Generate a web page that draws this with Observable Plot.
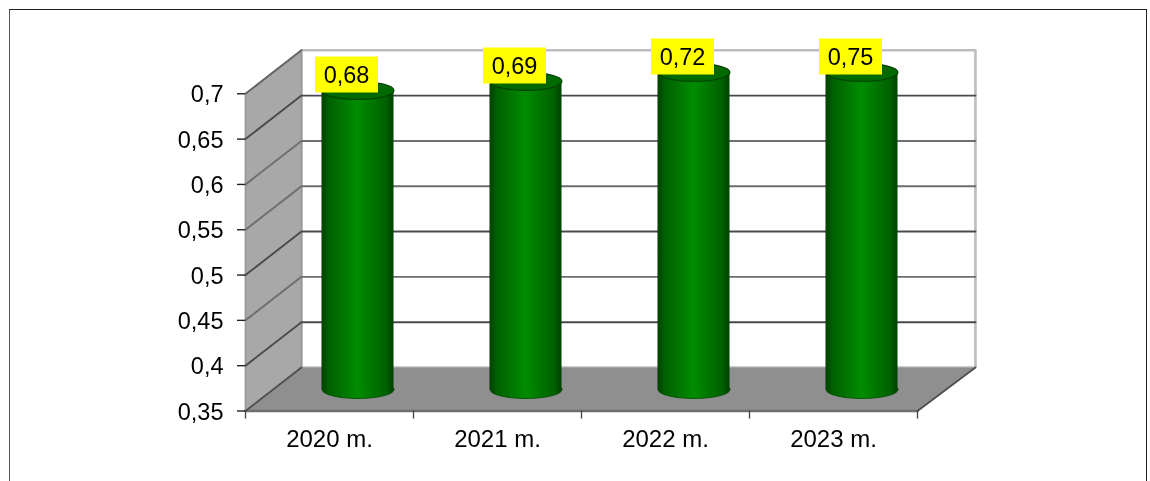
<!DOCTYPE html>
<html>
<head>
<meta charset="utf-8">
<script src="https://cdn.jsdelivr.net/npm/d3@7"></script>
<script src="https://cdn.jsdelivr.net/npm/@observablehq/plot@0.6"></script>
<style>
html,body{margin:0;padding:0;background:#fff;overflow:hidden;width:1150px;height:481px}
#frame{position:absolute;left:8.5px;top:9px;width:1136.5px;height:520px;border:1.5px solid #222;border-left-color:#555}
#chart{position:absolute;left:0;top:0}
#chart svg{display:block;font-family:"Liberation Sans",Arial,sans-serif;filter:blur(0.45px)}
</style>
</head>
<body>
<div id="frame"></div>
<div id="chart"></div>
<script>
const categories = ["2020 m.", "2021 m.", "2022 m.", "2023 m."];
const values = [0.68, 0.69, 0.72, 0.75];
const yTicks = [0.35, 0.4, 0.45, 0.5, 0.55, 0.6, 0.65, 0.7];
const darkGrid = [0.4, 0.5, 0.65];
const comma = (v) => String(v).replace(".", ",");

const axisMax = 0.7, axisMin = 0.35;
const depthX = 0.333, depthY = 0.048;    // full depth of the box in data units
const backEnd = 4.012;                   // the back wall runs slightly past the front edge
const P = (x, y, d = 0) => ({x: x + d * depthX, y: y + d * depthY});
const poly = (pts) => pts.map(([x, y, d]) => P(x, y, d));

const backWall = poly([[0, axisMin, 1], [backEnd, axisMin, 1], [backEnd, axisMax, 1], [0, axisMax, 1], [0, axisMin, 1]]);
const leftWall = poly([[0, axisMin, 0], [0, axisMin, 1], [0, axisMax, 1], [0, axisMax, 0], [0, axisMin, 0]]);
const floor = poly([[0, axisMin, 0], [4, axisMin, 0], [backEnd, axisMin, 1], [0, axisMin, 1], [0, axisMin, 0]]);
const floorFront = poly([[0, axisMin, 0], [4, axisMin, 0]]);
const floorDiagonals = [
  ...poly([[0, axisMin, 0], [0, axisMin, 1]]).map((p) => ({...p, s: "left"})),
  ...poly([[4, axisMin, 0], [backEnd, axisMin, 1]]).map((p) => ({...p, s: "right"}))
];
const grid = yTicks.filter((t) => t > axisMin && t < axisMax)
  .flatMap((t) => [P(0, t, 0), P(0, t, 1), P(backEnd, t, 1)].map((p) => ({...p, t})));
const topDiagonal = [P(0, axisMax, 0), P(0, axisMax, 1)];

const rows = categories.map((c, i) => ({
  c, i, v: values[i], x: i + 0.5, top: Math.min(values[i], axisMax)
}));

const ellipse = (rx, ry) => ({draw(ctx) {
  const k = 0.5523;
  ctx.moveTo(-rx, 0);
  ctx.bezierCurveTo(-rx, -ry * k, -rx * k, -ry, 0, -ry);
  ctx.bezierCurveTo(rx * k, -ry, rx, -ry * k, rx, 0);
  ctx.bezierCurveTo(rx, ry * k, rx * k, ry, 0, ry);
  ctx.bezierCurveTo(-rx * k, ry, -rx, ry * k, -rx, 0);
  ctx.closePath();
}});
const box = (w, h) => ({draw(ctx) {
  ctx.moveTo(-w, -h); ctx.lineTo(w, -h); ctx.lineTo(w, h); ctx.lineTo(-w, h); ctx.closePath();
}});

const cylDx = 28.5, cylDy = -21.5, halfW = 36 / 168;

const plot = Plot.plot({
  width: 1150, height: 481,
  marginLeft: 245, marginRight: 233, marginTop: 93.3, marginBottom: 70.5,
  x: {type: "linear", domain: [0, 4]},
  y: {type: "linear", domain: [axisMin, axisMax]},
  style: {background: "transparent", fontSize: "22px", fontFamily: '"Liberation Sans",Arial,sans-serif', color: "#000", overflow: "visible"},
  marks: [
    Plot.line(backWall, {x: "x", y: "y", stroke: "#bdbdbd", strokeWidth: 2.6, fill: "#fff"}),
    Plot.line(leftWall, {x: "x", y: "y", fill: "#a8a8a8", stroke: "#999", strokeWidth: 1.8}),
    Plot.line(topDiagonal, {x: "x", y: "y", stroke: "#666", strokeWidth: 1.8}),
    Plot.line(grid, {x: "x", y: "y", z: "t", stroke: (d) => darkGrid.includes(d.t) ? "#4a4a4a" : "#6e6e6e", strokeWidth: 1.9}),
    Plot.line(floor, {x: "x", y: "y", fill: "#8f8f8f", stroke: "none"}),
    Plot.line(floorFront, {x: "x", y: "y", stroke: "#6e6e6e", strokeWidth: 2.6}),
    Plot.line(floorDiagonals, {x: "x", y: "y", z: "s", stroke: "#4f4f4f", strokeWidth: 1.8}),
    Plot.dot(rows, {x: "x", y: () => axisMin, dx: cylDx, dy: cylDy, symbol: ellipse(36, 9), fill: "url(#cyl)", stroke: "#004a00", strokeWidth: 0.8}),
    Plot.rect(rows, {x1: (d) => d.x - halfW, x2: (d) => d.x + halfW, y1: () => axisMin, y2: "top", dx: cylDx, dy: cylDy, fill: "url(#cyl)"}),
    Plot.dot(rows, {x: "x", y: "top", dx: cylDx, dy: cylDy, symbol: ellipse(36, 9), fill: "#006a00", stroke: "#003c00", strokeWidth: 1.1}),
    Plot.dot(rows, {x: "x", y: "top", dx: 17, dy: -37.4, symbol: box(31.5, 18), fill: "#ffff00", stroke: "none"}),
    Plot.text(rows, {x: "x", y: "top", dx: 17, dy: -36.5, text: (d) => comma(d.v), fill: "#000", fontSize: 23.5}),
    Plot.ruleX([0, 1, 2, 3, 4], {x: (d) => d, y1: () => axisMin, y2: () => axisMin - 0.009, stroke: "#444", strokeWidth: 1.3}),
    Plot.ruleY(yTicks, {y: (d) => d, x1: () => -8 / 168, x2: () => 0, stroke: "#222", strokeWidth: 1.4}),
    Plot.axisY({ticks: yTicks, tickFormat: comma, tickSize: 0, tickPadding: 22, dy: 1, label: null, fontSize: 23.5}),
    Plot.axisX({ticks: rows.map((d) => d.x), tickFormat: (v) => categories[Math.floor(v)], tickSize: 0, tickPadding: 19, label: null, fontSize: 24})
  ]
});

const defs = d3.select(plot).insert("defs", ":first-child");
const g = defs.append("linearGradient").attr("id", "cyl").attr("x1", 0).attr("x2", 1).attr("y1", 0).attr("y2", 0);
[[0, "#004000"], [0.1, "#006000"], [0.5, "#008c00"], [0.9, "#006000"], [1, "#004000"]]
  .forEach(([o, c]) => g.append("stop").attr("offset", o).attr("stop-color", c));
document.getElementById("chart").append(plot);
</script>
</body>
</html>
